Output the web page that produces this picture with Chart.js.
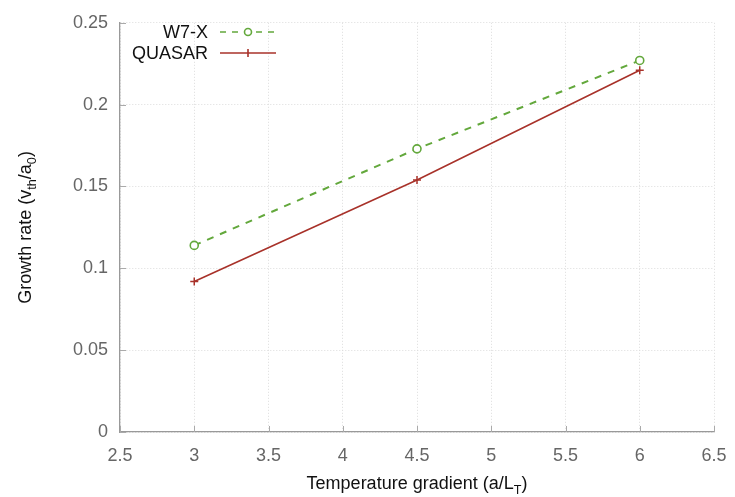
<!DOCTYPE html>
<html>
<head>
<meta charset="utf-8">
<script src="https://cdn.jsdelivr.net/npm/chart.js@4/dist/chart.umd.min.js"></script>
<style>
  html, body { margin: 0; padding: 0; background: #fff; }
  #wrap { width: 735px; height: 497px; }
</style>
</head>
<body>
<div id="wrap"><canvas id="c" width="735" height="497"></canvas></div>
<script>
// --- data ---
const gradients = [3, 4.5, 6];
const w7xRates = [0.114, 0.173, 0.227];
const quasarRates = [0.092, 0.154, 0.221];
const seriesNames = ['W7-X', 'QUASAR'];
const xTicks = [2.5, 3, 3.5, 4, 4.5, 5, 5.5, 6, 6.5];
const yTicks = [0, 0.05, 0.1, 0.15, 0.2, 0.25];

const GREEN = '#63a83c', RED = '#a8322a';
const FONT = '"Liberation Sans", Arial, sans-serif';

function pts(ys) { return gradients.map((x, i) => ({ x, y: ys[i] })); }

// draw text with a subscript part: parts = [[text, isSub], ...]
function measureParts(ctx, parts, size) {
  let w = 0;
  for (const [t, sub] of parts) {
    ctx.font = (sub ? size * 0.7 : size) + 'px ' + FONT;
    w += ctx.measureText(t).width;
  }
  return w;
}
function drawParts(ctx, parts, x, y, size) {
  for (const [t, sub] of parts) {
    ctx.font = (sub ? size * 0.7 : size) + 'px ' + FONT;
    ctx.fillText(t, x, sub ? y + size * 0.3 : y);
    x += ctx.measureText(t).width;
  }
}

const titles = {
  id: 'titles',
  afterDraw(chart) {
    const ctx = chart.ctx, a = chart.chartArea;
    ctx.save();
    ctx.fillStyle = '#111';
    ctx.textBaseline = 'alphabetic';
    ctx.textAlign = 'left';
    const size = 18;
    const xp = [['Temperature gradient (a/L', false], ['T', true], [')', false]];
    const xw = measureParts(ctx, xp, size);
    drawParts(ctx, xp, (a.left + a.right) / 2 - xw / 2, 489, size);

    const yp = [['Growth rate (v', false], ['th', true], ['/a', false], ['0', true], [')', false]];
    const yw = measureParts(ctx, yp, size);
    ctx.translate(31, (a.top + a.bottom) / 2);
    ctx.rotate(-Math.PI / 2);
    drawParts(ctx, yp, -yw / 2, 0, size);
    ctx.restore();

    // legend
    ctx.save();
    ctx.font = '18px ' + FONT;
    ctx.fillStyle = '#111';
    ctx.textAlign = 'right';
    ctx.textBaseline = 'middle';
    const rows = [
      { name: seriesNames[0], color: GREEN, dash: [6, 6], y: 32 },
      { name: seriesNames[1], color: RED, dash: [], y: 53 }
    ];
    rows.forEach((r, i) => {
      ctx.fillText(r.name, 208, r.y + 1);
      ctx.strokeStyle = r.color;
      ctx.lineWidth = 1.6;
      ctx.setLineDash(r.dash);
      ctx.beginPath(); ctx.moveTo(220, r.y); ctx.lineTo(276, r.y); ctx.stroke();
      ctx.setLineDash([]);
      ctx.beginPath();
      if (i === 0) { ctx.fillStyle = '#fff'; ctx.arc(248, r.y, 3.5, 0, Math.PI * 2); ctx.fill(); ctx.stroke(); ctx.fillStyle = '#111'; }
      else { ctx.moveTo(248, r.y - 4); ctx.lineTo(248, r.y + 4); ctx.stroke(); }
    });
    ctx.restore();
  }
};

// small inward ticks like gnuplot
const innerTicks = {
  id: 'innerTicks',
  afterDatasetsDraw(chart) {
    const ctx = chart.ctx, a = chart.chartArea, sx = chart.scales.x, sy = chart.scales.y;
    ctx.save();
    ctx.strokeStyle = '#aaa';
    ctx.lineWidth = 1;
    ctx.beginPath();
    xTicks.forEach(v => { const p = Math.round(sx.getPixelForValue(v)) + 0.5; ctx.moveTo(p, a.bottom); ctx.lineTo(p, a.bottom - 6); });
    yTicks.forEach(v => { const p = Math.round(sy.getPixelForValue(v)) + 0.5; ctx.moveTo(a.left, p); ctx.lineTo(a.left + 6, p); });
    ctx.stroke();
    ctx.restore();
  }
};

new Chart(document.getElementById('c'), {
  type: 'scatter',
  data: {
    datasets: [
      {
        label: seriesNames[0], data: pts(w7xRates), showLine: true,
        borderColor: GREEN, backgroundColor: '#fff', borderWidth: 2,
        borderDash: [7, 7], pointStyle: 'circle', pointRadius: 4,
        pointBorderWidth: 1.6, pointBorderColor: GREEN
      },
      {
        label: seriesNames[1], data: pts(quasarRates), showLine: true,
        borderColor: RED, backgroundColor: RED, borderWidth: 1.6,
        pointStyle: 'cross', pointRadius: 4, pointBorderWidth: 1.5
      }
    ]
  },
  options: {
    responsive: false,
    animation: false,
    layout: { padding: { top: 18, right: 21, left: 0, bottom: 0 } },
    plugins: { legend: { display: false }, tooltip: { enabled: false } },
    scales: {
      x: {
        type: 'linear', min: 2.5, max: 6.5,
        afterBuildTicks: s => { s.ticks = xTicks.map(v => ({ value: v })); },
        afterFit: s => { s.height = 65; s.paddingRight = 0; },
        ticks: { color: '#666', font: { family: FONT, size: 18 }, padding: 13, callback: v => String(v) },
        grid: { color: '#dcdcdc', drawTicks: false },
        border: { color: '#999', width: 1.3, dash: [1, 2] }
      },
      y: {
        type: 'linear', min: 0, max: 0.25,
        afterBuildTicks: s => { s.ticks = yTicks.map(v => ({ value: v })); },
        afterFit: s => { s.width = 120; },
        ticks: { color: '#666', font: { family: FONT, size: 18 }, padding: 12, callback: v => String(v) },
        grid: { color: '#dcdcdc', drawTicks: false },
        border: { color: '#999', width: 1.3, dash: [1, 2] }
      }
    }
  },
  plugins: [innerTicks, titles]
});
</script>
</body>
</html>
